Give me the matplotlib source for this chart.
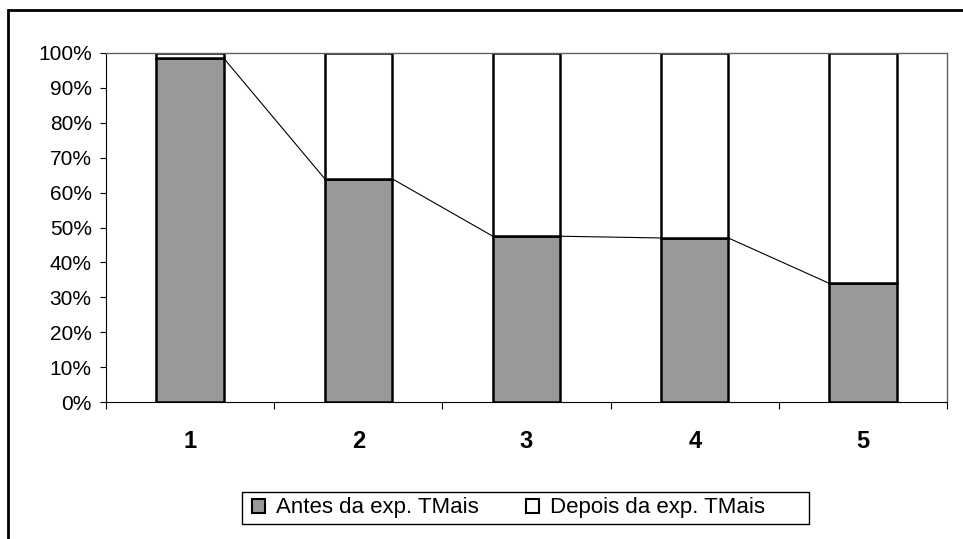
import numpy as np
import matplotlib.pyplot as plt
from matplotlib.patches import Rectangle
from matplotlib.ticker import PercentFormatter, FixedLocator

plt.rcParams['font.family'] = ['Liberation Sans', 'DejaVu Sans']

categories = ['1', '2', '3', '4', '5']
antes = [98.5, 64.0, 47.5, 47.0, 34.0]
depois = [100 - v for v in antes]
labels = ['Antes da exp. TMais', 'Depois da exp. TMais']

fig = plt.figure(figsize=(9.63, 5.39), dpi=100)
ax = fig.add_axes([106/963, 1 - 402/539, 841/963, 349/539])

x = np.arange(len(categories))
w = 0.4
b1 = ax.bar(x, antes, w, color='#999999', edgecolor='black', linewidth=1.8, label=labels[0])
b2 = ax.bar(x, depois, w, bottom=antes, color='white', edgecolor='black', linewidth=1.8, label=labels[1])

# series lines between the tops of the lower segments
for i in range(len(x) - 1):
    ax.plot([x[i] + w/2, x[i+1] - w/2], [antes[i], antes[i+1]], color='black', lw=0.8, zorder=1)

ax.set_xlim(-0.5, len(x) - 0.5)
ax.set_ylim(0, 100)
ax.set_yticks(np.arange(0, 101, 10))
ax.yaxis.set_major_formatter(PercentFormatter(decimals=0))
ax.tick_params(axis='y', labelsize=15, length=4.3, width=0.8, pad=6)

ax.set_xticks(x)
ax.set_xticklabels(categories, fontsize=17, fontweight='bold')
ax.tick_params(axis='x', which='major', length=0, pad=20)
ax.xaxis.set_minor_locator(FixedLocator(np.arange(-0.5, len(x), 1)))
ax.tick_params(axis='x', which='minor', length=5, width=0.8, direction='out')

for s in ['left', 'bottom']:
    ax.spines[s].set_color('black')
    ax.spines[s].set_linewidth(0.8)
for s in ['top', 'right']:
    ax.spines[s].set_color('#606060')
    ax.spines[s].set_linewidth(1)

leg = fig.legend(handles=[b1, b2], labels=labels, loc='center left', ncol=2,
                 bbox_to_anchor=(245/963, 1 - 508/539), borderaxespad=0,
                 fontsize=16, frameon=False,
                 handlelength=0.6, handleheight=0.6, handletextpad=0.5,
                 columnspacing=2.1, borderpad=0.3)
for h in leg.legend_handles:
    h.set_linewidth(1.5)

fig.add_artist(Rectangle((242/963, 1 - 524/539), 567/963, 32/539, transform=fig.transFigure,
                         fill=False, edgecolor='black', linewidth=1))

fig.add_artist(Rectangle((8/963, -0.1), 1.2, 1.1 - 10/539, transform=fig.transFigure,
                         fill=False, edgecolor='black', linewidth=2))

fig.savefig('out.png', dpi=100)
